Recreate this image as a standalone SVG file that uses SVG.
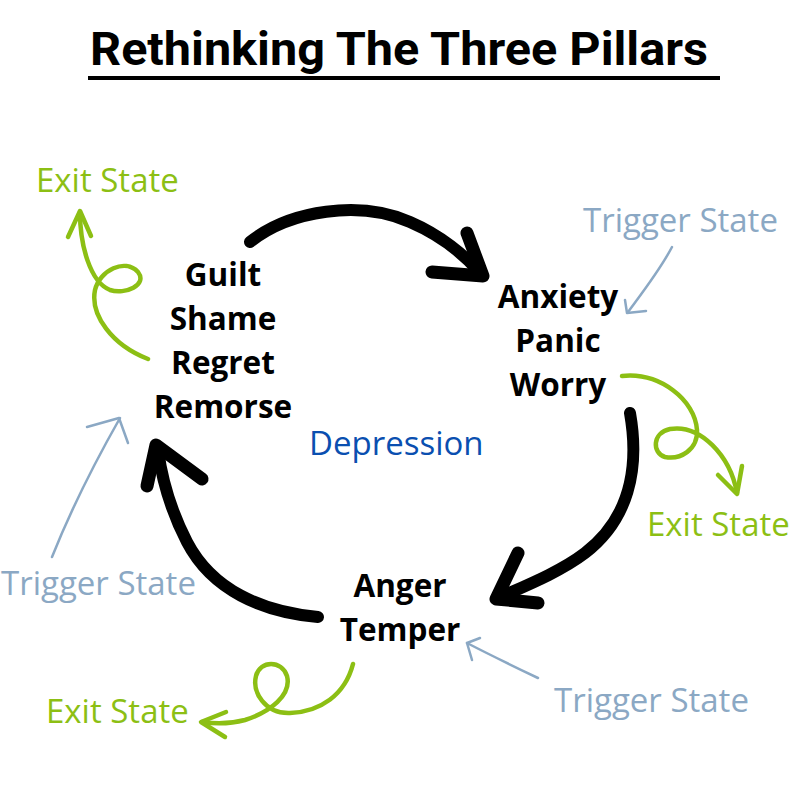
<svg xmlns="http://www.w3.org/2000/svg" width="800" height="800" viewBox="0 0 800 800">
<style>
.title{font-family:Roboto,"Liberation Sans",sans-serif;font-weight:700;font-size:46px;fill:#000}
.node{font-family:"Open Sans","Liberation Sans",sans-serif;font-weight:700;font-size:31.5px;fill:#000;text-anchor:middle}
.lbl{font-family:"Open Sans","Liberation Sans",sans-serif;font-weight:400;font-size:33px}
.trig{fill:#8ba8c4}
.exit{fill:#8cbf14}
.dep{fill:#0a4fb0}
.brush{fill:none;stroke:#000;stroke-width:12;stroke-linecap:round;stroke-linejoin:round}
.head{fill:none;stroke:#000;stroke-width:13;stroke-linecap:round;stroke-linejoin:round}
.green{fill:none;stroke:#8cbf14;stroke-width:4.5;stroke-linecap:round;stroke-linejoin:round}
.blue{fill:none;stroke:#8ba8c4;stroke-width:2.5;stroke-linecap:round;stroke-linejoin:round}
</style>
<rect width="800" height="800" fill="#fff"/>
<g id="title">
<text class="title" x="90" y="65" textLength="618" lengthAdjust="spacingAndGlyphs">Rethinking The Three Pillars</text>
<rect x="88" y="76" width="632" height="4" fill="#000"/>
</g>
<g id="node-guilt">
<text class="node" x="223" y="286">Guilt</text>
<text class="node" x="223" y="330">Shame</text>
<text class="node" x="223" y="374">Regret</text>
<text class="node" x="223" y="418">Remorse</text>
</g>
<g id="node-anxiety">
<text class="node" x="558" y="308">Anxiety</text>
<text class="node" x="558" y="352">Panic</text>
<text class="node" x="558" y="396">Worry</text>
</g>
<g id="node-anger">
<text class="node" x="400" y="597">Anger</text>
<text class="node" x="400" y="641">Temper</text>
</g>
<g id="node-depression">
<text class="lbl dep" x="309" y="455">Depression</text>
</g>
<g id="trigger-top-right"><text class="lbl trig" x="583" y="232">Trigger State</text></g>
<g id="trigger-left"><text class="lbl trig" x="1" y="595">Trigger State</text></g>
<g id="trigger-bottom-right"><text class="lbl trig" x="554" y="712">Trigger State</text></g>
<g id="exit-top-left"><text class="lbl exit" x="36" y="192">Exit State</text></g>
<g id="exit-right"><text class="lbl exit" x="647" y="536">Exit State</text></g>
<g id="exit-bottom"><text class="lbl exit" x="46" y="723">Exit State</text></g>
<g id="connectors">
<path class="brush" d="M250,242 C290,210 360,200 410,222 C440,235 465,255 481,274"/>
<path class="head" d="M467,233 L483,276 L432,272"/>
<path class="brush" d="M630,413 C640,470 628,520 585,553 C560,572 525,586 498,598"/>
<path class="head" d="M518,553 L496,599 L538,603"/>
<path class="brush" d="M318,617 C262,612 212,590 187,542 C171,511 162,480 158,450"/>
<path class="head" d="M147,486 L156,445 L202,479"/>
<path class="green" d="M148,359 C112,345 90,315 95,290 C100,270 125,258 138,272 C148,285 125,295 110,290 C90,282 80,245 80,212"/>
<path class="green" d="M68,237 L80,211 L91,236"/>
<path class="green" d="M622,376 C660,372 695,400 697,430 C698,450 680,460 665,457 C652,453 652,433 670,429 C700,424 730,455 737,493"/>
<path class="green" d="M718,475 L737,494 L742,466"/>
<path class="green" d="M353,664 C345,695 320,712 290,713 C265,714 252,692 256,676 C260,660 282,660 287,676 C292,695 270,712 245,720 C230,724 215,724 202,722"/>
<path class="green" d="M226,712 L201,722 L225,737"/>
<path class="blue" d="M672,247 C660,270 642,293 628,312"/>
<path class="blue" d="M625,300 L627,313 L646,311"/>
<path class="blue" d="M52,557 C70,512 95,462 120,418"/>
<path class="blue" d="M87,427 L119,418 L128,443"/>
<path class="blue" d="M538,678 C515,667 490,655 467,643"/>
<path class="blue" d="M480,638 L467,643 L472,660"/>
</g>
</svg>
